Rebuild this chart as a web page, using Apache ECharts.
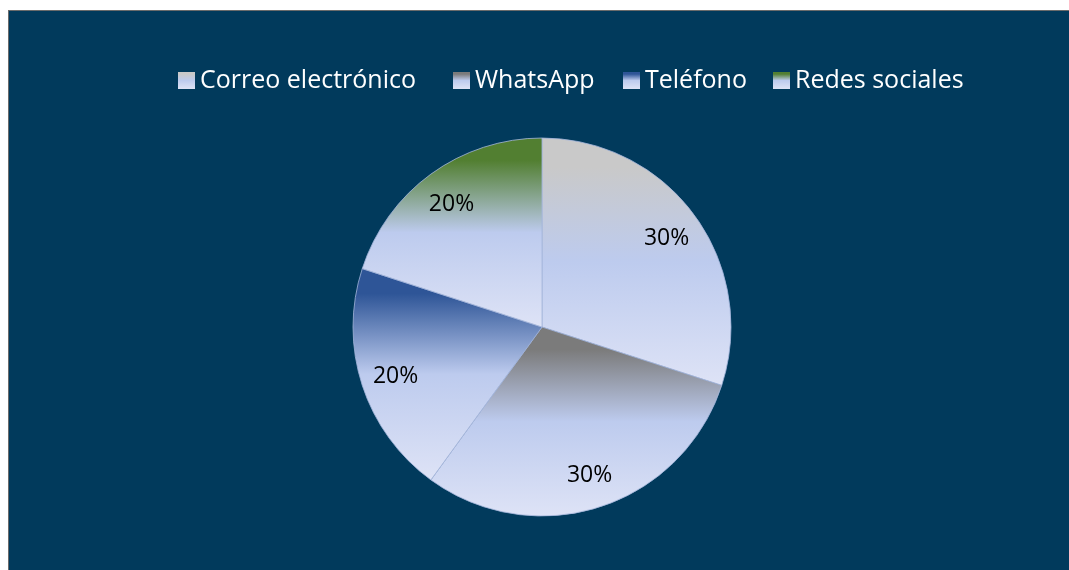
<!DOCTYPE html>
<html>
<head>
<meta charset="utf-8">
<script src="https://cdn.jsdelivr.net/npm/echarts@6/dist/echarts.min.js"></script>
<style>
  html, body { margin: 0; padding: 0; background: #ffffff; overflow: hidden; }
  #backdrop {
    position: absolute; left: 8px; top: 10px; width: 1080px; height: 580px;
    background: #013a5c; border-left: 1px solid #6b6b6b; border-top: 1px solid #6b6b6b;
    box-sizing: border-box;
  }
  #chart { position: absolute; left: 0; top: 0; width: 1069px; height: 570px; }
</style>
</head>
<body>
<div id="backdrop"></div>
<div id="chart"></div>
<script>
// Contact channels and their share of responses (percent)
const categories = ['Correo electrónico', 'WhatsApp', 'Teléfono', 'Redes sociales'];
const shares = [30, 30, 20, 20];
// Top colour of each slice's vertical gradient
const baseColors = ['#c9c9c9', '#7b7b7b', '#2e5597', '#527f31'];
// Left edge of each legend entry
const legendLefts = [178, 453, 623, 773];

const fontFamily = '"Open Sans", "Noto Sans", sans-serif';

function fadeGradient(top) {
  return new echarts.graphic.LinearGradient(0, 0, 0, 1, [
    { offset: 0, color: top },
    { offset: 0.12, color: top },
    { offset: 0.5, color: '#bdcbee' },
    { offset: 1, color: '#dee3f6' }
  ]);
}

const pieData = categories.map((name, i) => ({
  name: name,
  value: shares[i],
  itemStyle: { color: fadeGradient(baseColors[i]) }
}));

const labelData = categories.map((name, i) => ({ name: name, value: shares[i] }));

const legends = categories.map((name, i) => ({
  data: [name],
  left: legendLefts[i],
  top: 68,
  padding: 0,
  itemWidth: 17,
  itemHeight: 17,
  icon: 'rect',
  itemStyle: { borderWidth: 0 },
  textStyle: { color: '#ffffff', fontSize: 25, fontFamily: fontFamily }
}));

const chart = echarts.init(document.getElementById('chart'), null, { renderer: 'canvas' });
chart.setOption({
  backgroundColor: 'transparent',
  animation: false,
  legend: legends,
  series: [
    {
      type: 'pie',
      center: [542, 327],
      radius: [0, 189],
      startAngle: 90,
      clockwise: true,
      label: { show: false },
      labelLine: { show: false },
      itemStyle: { borderColor: '#a3b5da', borderWidth: 0.8 },
      emphasis: { disabled: true },
      data: pieData
    },
    {
      // transparent ring that carries the percentage labels
      type: 'pie',
      center: [542, 327],
      radius: [113, 189],
      startAngle: 90,
      clockwise: true,
      silent: true,
      itemStyle: { color: 'rgba(0,0,0,0)', borderWidth: 0 },
      label: {
        show: true,
        position: 'inside',
        formatter: (p) => p.value + '%',
        color: '#000000',
        fontSize: 23,
        fontFamily: fontFamily,
        offset: [0, 2]
      },
      labelLine: { show: false },
      emphasis: { disabled: true },
      data: labelData
    }
  ]
});
</script>
</body>
</html>
